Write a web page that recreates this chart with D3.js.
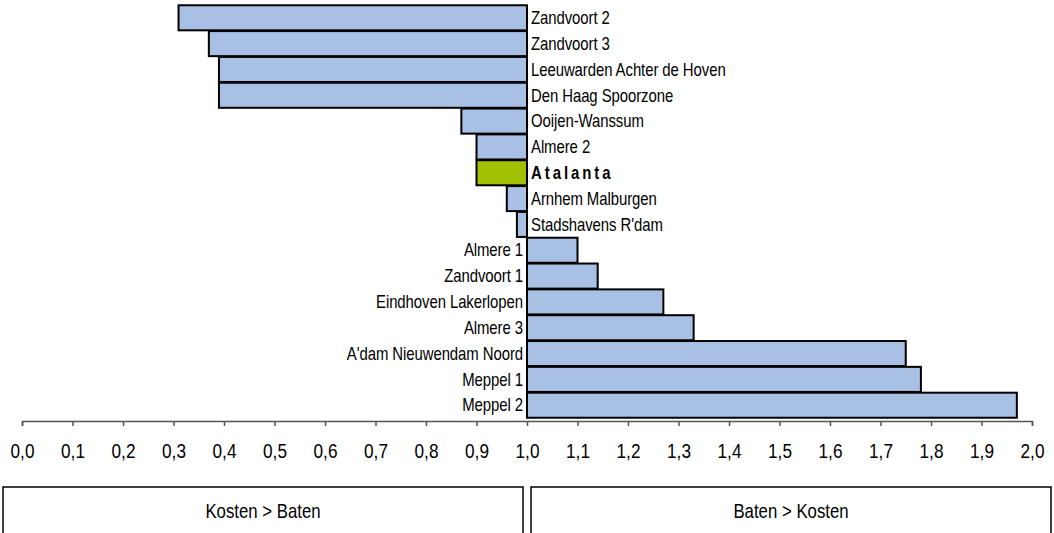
<!DOCTYPE html>
<html>
  <head>
    <meta charset="utf-8" />
    <title>Kosten en baten</title>
    <style>
      body { margin: 0; background: #fff; }
      svg text { font-family: "Liberation Sans", Arial, sans-serif; }
    </style>
  </head>
  <body>
    <svg width="1054" height="533"></svg>

    <script type="text/javascript" src="https://d3js.org/d3.v7.min.js"></script>
    <script type="text/javascript">
      // projects, top to bottom, with their ratio
      const projects = [
        "Zandvoort 2", "Zandvoort 3", "Leeuwarden Achter de Hoven", "Den Haag Spoorzone",
        "Ooijen-Wanssum", "Almere 2", "Atalanta", "Arnhem Malburgen", "Stadshavens R'dam",
        "Almere 1", "Zandvoort 1", "Eindhoven Lakerlopen", "Almere 3",
        "A'dam Nieuwendam Noord", "Meppel 1", "Meppel 2"
      ];
      const ratios = [0.31, 0.37, 0.39, 0.39, 0.87, 0.90, 0.90, 0.96, 0.98,
        1.10, 1.14, 1.27, 1.33, 1.75, 1.78, 1.97];
      const highlight = "Atalanta";
      const tickValues = d3.range(0, 21).map(d => d / 10);
      const boxLabels = ["Kosten > Baten", "Baten > Kosten"];

      const svg = d3.select("svg");
      const baseline = 1;
      // the original text looks a bit squeezed sideways
      const squeeze = "scale(0.84,1)";

      const x = d3.scaleLinear().domain([0, 2]).range([22, 1032]);
      const y = d3.scaleBand().domain(projects).range([5, 418]).paddingInner(0.03).paddingOuter(0.01);

      const data = projects.map((p, i) => ({ name: p, value: ratios[i] }));

      // bars
      svg.append("g").selectAll("rect")
        .data(data)
        .enter().append("rect")
        .attr("x", d => x(Math.min(d.value, baseline)))
        .attr("y", d => y(d.name))
        .attr("width", d => Math.abs(x(d.value) - x(baseline)))
        .attr("height", y.bandwidth())
        .attr("fill", d => d.name === highlight ? "#a2c100" : "#a7c0e4")
        .attr("stroke", "#000")
        .attr("stroke-width", 2);

      // labels next to the baseline
      svg.append("g").selectAll("g")
        .data(data)
        .enter().append("g")
        .attr("transform", d => "translate(" + (d.value < baseline ? x(baseline) + 4 : x(baseline) - 4) +
          "," + (y(d.name) + y.bandwidth() / 2) + ")")
        .append("text")
        .attr("transform", squeeze)
        .attr("dy", "0.35em")
        .attr("text-anchor", d => d.value < baseline ? "start" : "end")
        .style("font-size", "17.8px")
        .style("font-weight", d => d.name === highlight ? "bold" : "normal")
        .style("letter-spacing", d => d.name === highlight ? "3.5px" : "-0.1px")
        .attr("fill", "#000")
        .text(d => d.name);

      // x axis
      const axis = svg.append("g")
        .attr("transform", "translate(0,421)")
        .call(d3.axisBottom(x).tickValues(tickValues).tickSize(5).tickPadding(17)
          .tickFormat(d => d3.format(".1f")(d).replace(".", ",")));
      axis.select(".domain").attr("stroke", "#555").attr("stroke-width", 1.5);
      axis.selectAll(".tick line").attr("stroke", "#555").attr("stroke-width", 1.5);
      axis.selectAll(".tick text")
        .attr("transform", squeeze)
        .style("font-size", "20.5px")
        .style("font-family", "'Liberation Sans', Arial, sans-serif")
        .attr("fill", "#000");

      // boxes under the axis
      const boxes = [[3, 523], [531, 1051]];
      const box = svg.append("g").selectAll("g")
        .data(boxLabels)
        .enter().append("g");
      box.append("rect")
        .attr("x", (d, i) => boxes[i][0])
        .attr("y", 487)
        .attr("width", (d, i) => boxes[i][1] - boxes[i][0])
        .attr("height", 60)
        .attr("fill", "none")
        .attr("stroke", "#000")
        .attr("stroke-width", 1.5);
      box.append("g")
        .attr("transform", (d, i) => "translate(" + (boxes[i][0] + boxes[i][1]) / 2 + ",511)")
        .append("text")
        .attr("transform", squeeze)
        .attr("dy", "0.35em")
        .attr("text-anchor", "middle")
        .style("font-size", "20px")
        .text(d => d);
    </script>
  </body>
</html>
